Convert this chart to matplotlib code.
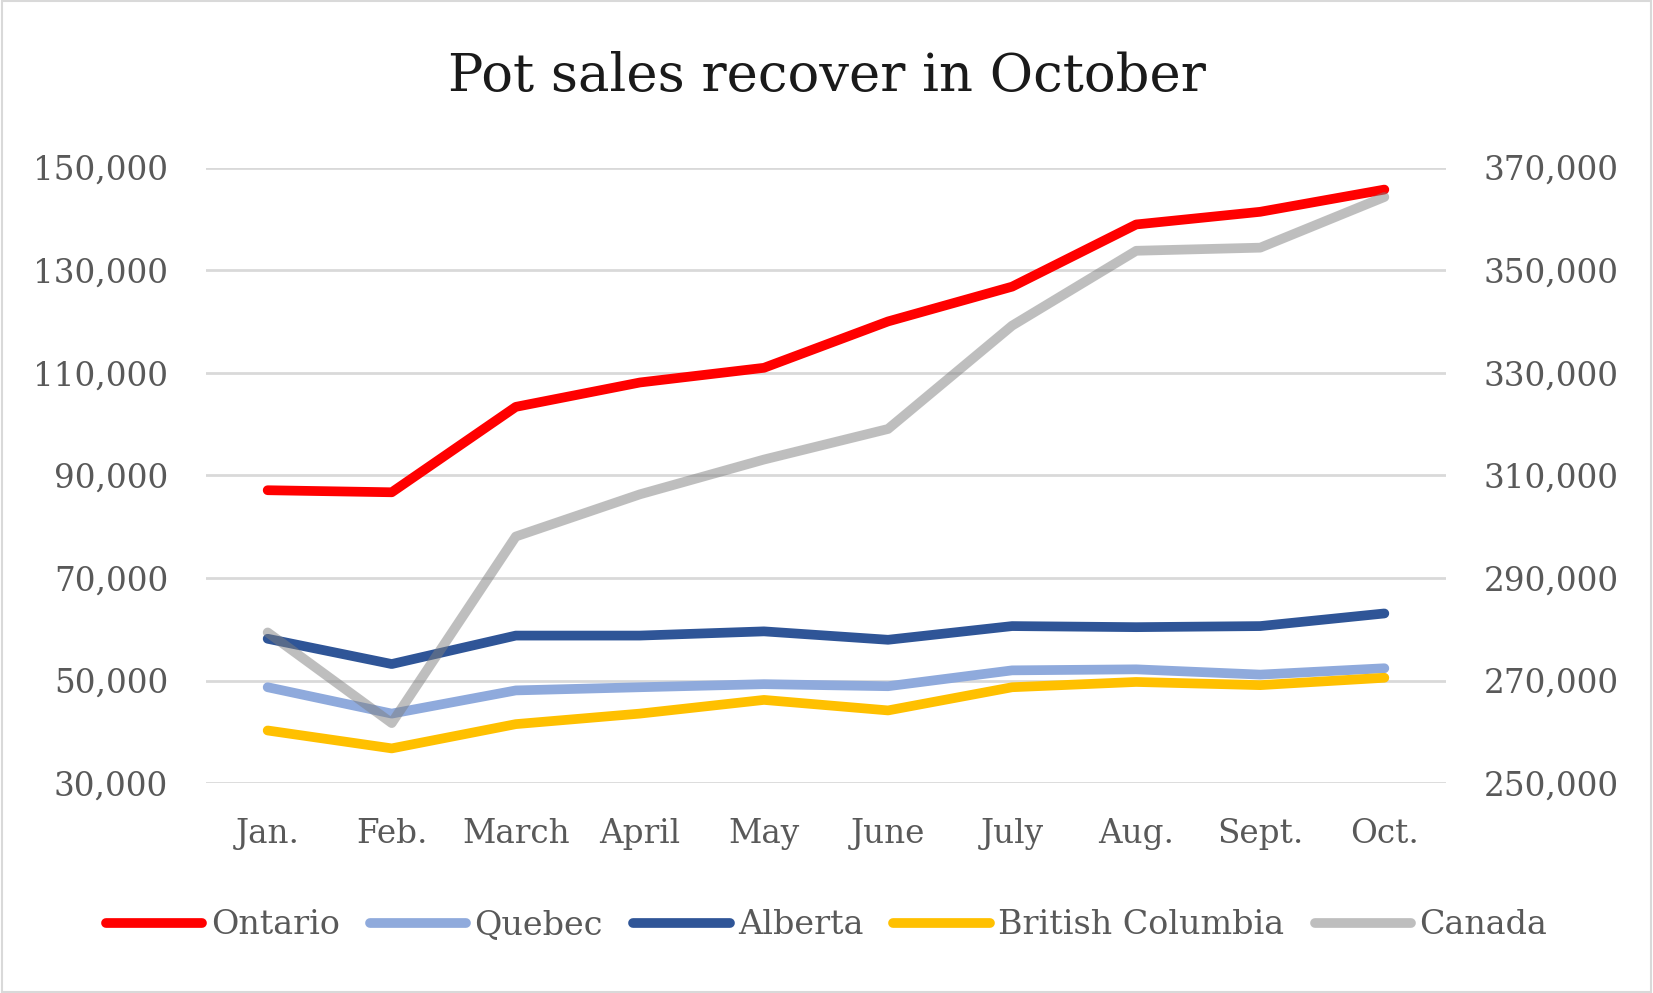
import matplotlib.pyplot as plt
from matplotlib.patches import Rectangle
from matplotlib.ticker import FuncFormatter

months = ["Jan.", "Feb.", "March", "April", "May", "June", "July", "Aug.", "Sept.", "Oct."]

ontario = [87100, 86700, 103350, 108100, 110960, 120000, 126780, 138900, 141370, 145700]
quebec = [48700, 43560, 48080, 48700, 49300, 48900, 51990, 52190, 51160, 52400]
alberta = [58150, 53220, 58770, 58770, 59590, 57950, 60620, 60410, 60620, 63080]
bc = [40270, 36780, 41510, 43560, 46230, 44180, 48700, 49730, 49110, 50550]
canada = [279380, 261710, 298080, 306300, 313080, 319040, 339180, 353770, 354380, 364250]

plt.rcParams['font.family'] = 'DejaVu Serif'

fig = plt.figure(figsize=(16.53, 9.93), dpi=100)
fig.patches.append(Rectangle((0.001, 0.001), 0.998, 0.998, transform=fig.transFigure,
                             fill=False, edgecolor='#D9D9D9', linewidth=1.5))
ax = fig.add_axes([0.1244, 0.2113, 0.7506, 0.62])
ax2 = ax.twinx()

x = range(len(months))
lw = 7
l1, = ax.plot(x, ontario, color='#FF0000', lw=lw, solid_capstyle='round', label='Ontario')
l2, = ax.plot(x, quebec, color='#8FAADC', lw=lw, solid_capstyle='round', label='Quebec')
l3, = ax.plot(x, alberta, color='#2F5597', lw=lw, solid_capstyle='round', label='Alberta')
l4, = ax.plot(x, bc, color='#FFC000', lw=lw, solid_capstyle='round', label='British Columbia')
l5, = ax2.plot(x, canada, color='#7F7F7F', alpha=0.5, lw=lw, solid_capstyle='round', label='Canada')

ax.set_xlim(-0.5, 9.5)
ax.set_ylim(30000, 150000)
ax2.set_ylim(250000, 370000)
ax.set_yticks(range(30000, 150001, 20000))
ax2.set_yticks(range(250000, 370001, 20000))
fmt = FuncFormatter(lambda v, p: f"{int(v):,}")
ax.yaxis.set_major_formatter(fmt)
ax2.yaxis.set_major_formatter(fmt)
ax.set_xticks(list(x))
ax.set_xticklabels(months)

ax.grid(axis='y', color='#D9D9D9', linewidth=2)
ax.set_axisbelow(True)
for a in (ax, ax2):
    for s in a.spines.values():
        s.set_visible(False)
    a.tick_params(length=0, labelsize=23.5, labelcolor='#595959')
ax.tick_params(axis='y', pad=27)
ax2.tick_params(axis='y', pad=27)
ax.tick_params(axis='x', pad=25)

fig.text(0.5, 0.923, "Pot sales recover in October", ha='center', va='center',
         fontsize=38, color='#1A1A1A')

fig.legend(handles=[l1, l2, l3, l4, l5], loc='center', bbox_to_anchor=(0.5, 0.068),
           ncol=5, frameon=False, fontsize=24, handlelength=2.9, handletextpad=0.25,
           columnspacing=0.9, labelcolor='#595959')

fig.savefig('out.png', dpi=100)
